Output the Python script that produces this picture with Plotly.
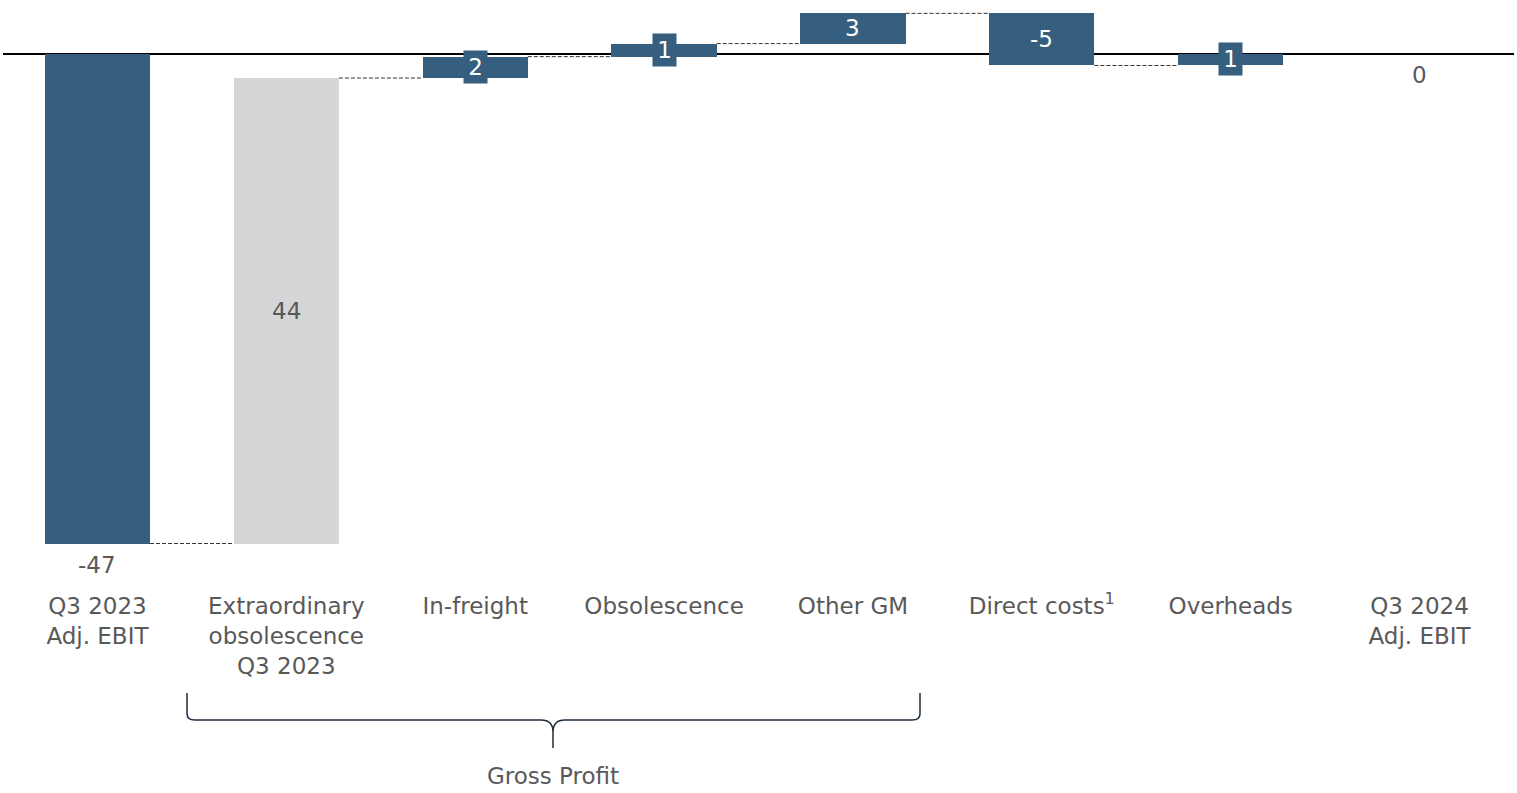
import plotly.graph_objects as go

# ---------------- data ----------------
categories = ["Q3 2023<br>Adj. EBIT", "Extraordinary<br>obsolescence<br>Q3 2023", "In-freight",
              "Obsolescence", "Other GM", "Direct costs<sup>1</sup>", "Overheads",
              "Q3 2024<br>Adj. EBIT"]
measures = ["absolute", "relative", "relative", "relative", "relative", "relative", "relative", "total"]
values = [-47, 44.65, 2.05, 1.25, 2.9, -5.0, 1.15, 0]
value_labels = ["-47", "44", "2", "1", "3", "-5", "1", "0"]
group_label = "Gross Profit"

# ---------------- styling ----------------
BLUE = "#365E7E"
LIGHT = "#D5D6D8"
TXT = "#595959"
FONT = "DejaVu Sans"
W, H = 1517, 793
ML, MR, MT, MB = 3, 3, 10, 208
BAR_W = 0.557
Y_RANGE = [-50.98, 4.172]
LIGHT_IDX = 1

n = len(categories)
idx = list(range(n))
bases, heights, ends = [], [], []
run = 0.0
for m, v in zip(measures, values):
    if m == "absolute":
        bases.append(0.0); heights.append(v); run = v
    elif m == "relative":
        bases.append(run); heights.append(v); run = run + v
    else:
        bases.append(0.0); heights.append(run)
    ends.append(run)

colors = [LIGHT if i == LIGHT_IDX else BLUE for i in idx]

fig = go.Figure()
fig.add_trace(go.Bar(x=idx, y=heights, base=bases, width=BAR_W,
                     marker=dict(color=colors, line=dict(width=0)),
                     hoverinfo="skip", showlegend=False))

# connectors
for i in range(n - 1):
    fig.add_shape(type="line", xref="x", yref="y",
                  x0=i + BAR_W / 2, x1=i + 1 - BAR_W / 2, y0=ends[i], y1=ends[i],
                  line=dict(color="#333333", width=1, dash="4px,2px"), layer="below")

plot_h = H - MT - MB
px_per_unit = plot_h / (Y_RANGE[1] - Y_RANGE[0])

# value labels
for i in idx:
    lo = min(bases[i], bases[i] + heights[i])
    hi = max(bases[i], bases[i] + heights[i])
    if measures[i] in ("absolute", "total"):
        fig.add_annotation(x=i, y=lo, xref="x", yref="y", text=value_labels[i],
                           showarrow=False, yanchor="top", yshift=-6,
                           font=dict(family=FONT, size=23, color=TXT))
    elif i == LIGHT_IDX:
        fig.add_annotation(x=i, y=(lo + hi) / 2, xref="x", yref="y", text=value_labels[i],
                           showarrow=False, font=dict(family=FONT, size=23, color=TXT))
    elif (hi - lo) * px_per_unit < 28:
        fig.add_annotation(x=i, y=(lo + hi) / 2, xref="x", yref="y", text=value_labels[i],
                           showarrow=False, bgcolor=BLUE, width=23, height=32, borderpad=0,
                           font=dict(family=FONT, size=23, color="white"))
    else:
        fig.add_annotation(x=i, y=(lo + hi) / 2, xref="x", yref="y", text=value_labels[i],
                           showarrow=False, font=dict(family=FONT, size=23, color="white"))

# brace under the gross-profit group (pixel -> paper helpers)
pw = W - ML - MR
def xp(px):
    return (px - ML) / pw
def yp(py):
    return (H - MB - py) / plot_h

L, R, C = 187, 920, 553
top, mid, tip = 693, 720, 748
path = (f"M {xp(L)},{yp(top)} L {xp(L)},{yp(mid-6)} Q {xp(L)},{yp(mid)} {xp(L+8)},{yp(mid)} "
        f"L {xp(C-12)},{yp(mid)} Q {xp(C)},{yp(mid)} {xp(C)},{yp(mid+12)} L {xp(C)},{yp(tip)} "
        f"M {xp(C)},{yp(mid+12)} Q {xp(C)},{yp(mid)} {xp(C+12)},{yp(mid)} "
        f"L {xp(R-8)},{yp(mid)} Q {xp(R)},{yp(mid)} {xp(R)},{yp(mid-6)} L {xp(R)},{yp(top)}")
fig.add_shape(type="path", xref="paper", yref="paper", path=path,
              line=dict(color="#1F2D3D", width=1.5))
fig.add_annotation(x=xp(C), y=yp(776), xref="paper", yref="paper", text=group_label,
                   showarrow=False, xanchor="center", yanchor="middle",
                   font=dict(family=FONT, size=23, color=TXT))

fig.update_layout(
    width=W, height=H, margin=dict(l=ML, r=MR, t=MT, b=MB),
    plot_bgcolor="white", paper_bgcolor="white", bargap=0,
    xaxis=dict(range=[-0.5, n - 0.5], tickvals=idx, ticktext=categories,
               tickfont=dict(family=FONT, size=23, color=TXT), showgrid=False,
               zeroline=False, showline=False, ticks="", ticklabelstandoff=5,
               fixedrange=True),
    yaxis=dict(range=Y_RANGE, showgrid=False, showticklabels=False, zeroline=True,
               zerolinecolor="black", zerolinewidth=2, showline=False, ticks="",
               fixedrange=True),
)
fig.write_html("out.html", config={"displayModeBar": False},
               post_script="document.body.style.margin='0';")
